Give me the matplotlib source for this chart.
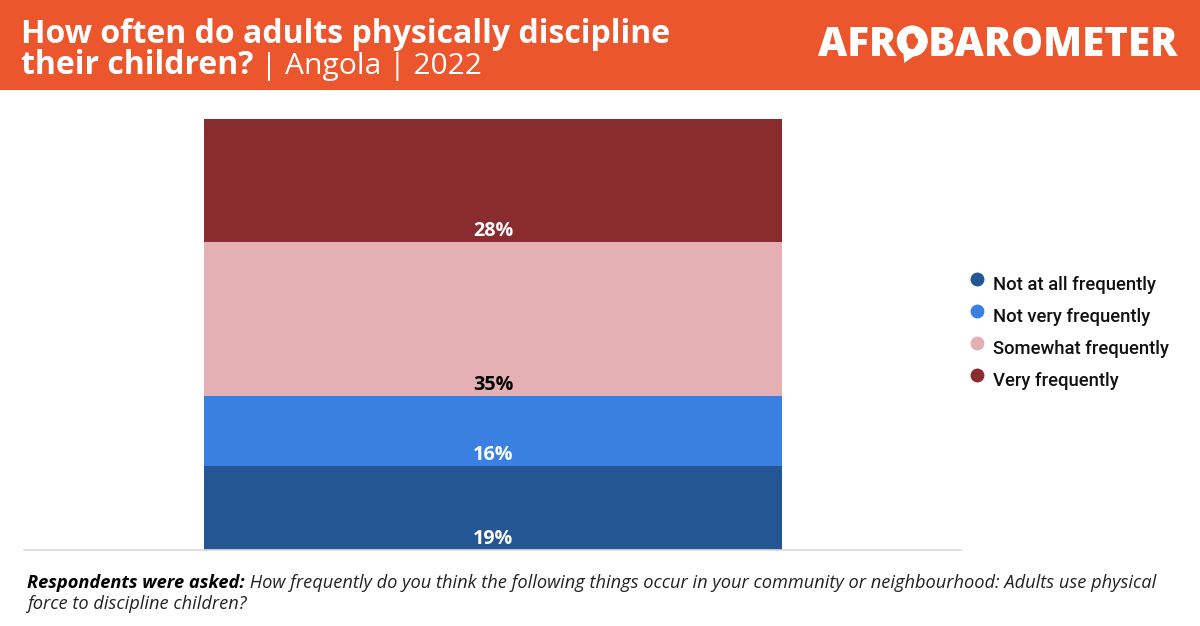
import matplotlib
matplotlib.use("Agg")
import matplotlib.pyplot as plt
from matplotlib.patches import Rectangle, Polygon, Ellipse

categories = ["Not at all frequently", "Not very frequently", "Somewhat frequently", "Very frequently"]
values = [19, 16, 35, 28]
colors = ["#245693", "#3A80E0", "#E4B0B4", "#8A2C2E"]
label_colors = ["white", "white", "black", "white"]
title_bold_1 = "How often do adults physically discipline"
title_bold_2 = "their children?"
title_light = " | Angola | 2022"
note_bold = "Respondents were asked:"
note_1 = " How frequently do you think the following things occur in your community or neighbourhood: Adults use physical"
note_2 = "force to discipline children?"
logo = "AFROBAROMETER"

W, H = 1200, 626
ORANGE = "#EB562D"
fig = plt.figure(figsize=(W / 100, H / 100), dpi=100, facecolor="white")
FONT = "Open Sans"

def run(x, y, s, **kw):
    return fig.text(x / W, 1 - y / H, s, va="baseline", ha="left", **kw)

def right(t):
    r = fig.canvas.get_renderer()
    return t.get_window_extent(r).x1

# Header
fig.add_artist(Rectangle((0, 1 - 89.5 / H), 1, 89.5 / H, transform=fig.transFigure, color=ORANGE, lw=0))
run(21, 43, title_bold_1, color="white", fontsize=23, fontweight="bold", family=FONT)
t = run(21, 74, title_bold_2, color="white", fontsize=23, fontweight="bold", family=FONT)
run(right(t), 74, title_light, color="white", fontsize=21.6, family=FONT)
logo_kw = dict(color="white", fontsize=29, fontweight="heavy", family=FONT)
run(818, 56, logo, **logo_kw)

# Logo emblem: speech bubble with Africa, placed over the O of the wordmark
probe = run(818, 56, logo[:3], alpha=0, **logo_kw)
x0 = right(probe)
probe2 = run(818, 56, logo[:4], alpha=0, **logo_kw)
x1 = right(probe2)
cx, cy = (x0 + x1) / 2, 41

def px(points):
    return [((cx + dx) / W, 1 - (cy + dy) / H) for dx, dy in points]

fig.add_artist(Ellipse(((cx) / W, 1 - cy / H), 31 / W, 31 / H, transform=fig.transFigure, color="white", lw=0))
fig.add_artist(Polygon(px([(-9, 10), (-8, 22), (3, 14)]), transform=fig.transFigure, color="white", lw=0))
fig.add_artist(Polygon(px([(-8.3, -6.7), (1.7, -7.7), (4.3, -2.7), (8.3, -2), (4.3, 4), (0, 10.7),
                           (-3.3, 11.3), (-5, 2.3), (-9, 0), (-11, -4.3)]),
                       transform=fig.transFigure, color=ORANGE, lw=0))

# Chart
ax = fig.add_axes([24 / W, 1 - 549.5 / H, (961 - 24) / W, (549.5 - 118.5) / H])
bar_left = (204 - 24) / (961 - 24)
bar_width = (782 - 204) / (961 - 24)
bottom = 0
for cat, v, c, lc in zip(categories, values, colors, label_colors):
    ax.bar(bar_left, v, width=bar_width, bottom=bottom, align="edge", color=c, lw=0)
    ax.text(bar_left + bar_width / 2, bottom + 2.5, f"{v}%", ha="center", va="center",
            color=lc, fontsize=14.2, fontweight="bold", family=FONT)
    bottom += v
ax.set_xlim(0, 1)
ax.set_ylim(0, sum(values))
ax.set_xticks([]); ax.set_yticks([])
for s in ["top", "left", "right"]:
    ax.spines[s].set_visible(False)
ax.spines["bottom"].set_color("#DADADA")
ax.spines["bottom"].set_linewidth(1.2)

# Legend
for i, (cat, c) in enumerate(zip(categories, colors)):
    y = 279 + 32 * i
    fig.add_artist(plt.Line2D([977 / W], [1 - y / H], ls="", marker="o", ms=10, color=c, mew=0,
                              transform=fig.transFigure))
    fig.text(993 / W, 1 - (y + 11) / H, cat, color="#111111", family="Roboto", fontsize=13.35,
             fontweight="medium", va="baseline", ha="left")

# Note
t = run(27, 588, note_bold, color="black", fontsize=13.15, fontweight="bold", style="italic", family=FONT)
run(right(t), 588, note_1, color="#222222", fontsize=13.15, style="italic", family=FONT)
run(27, 609, note_2, color="#222222", fontsize=13.15, style="italic", family=FONT)

fig.savefig("out.png", dpi=100)
